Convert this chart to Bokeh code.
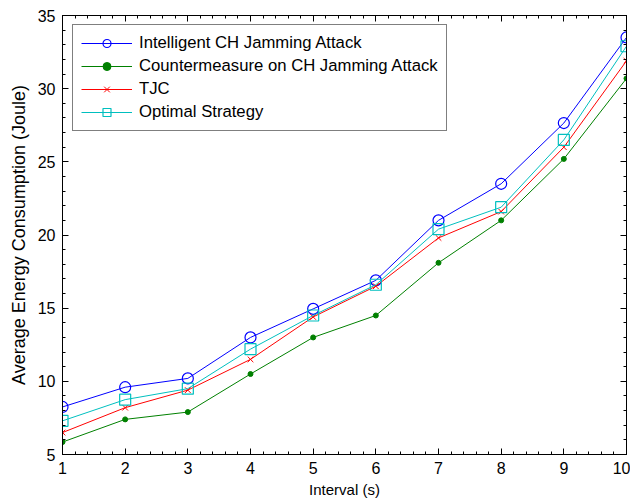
from bokeh.plotting import figure
from bokeh.models import (LinearAxis, FixedTicker, Range1d, Legend, LegendItem,
                          CustomJSTickFormatter)
from bokeh.embed import file_html
from bokeh.resources import INLINE

intervals = [1, 2, 3, 4, 5, 6, 7, 8, 9, 10]
intelligent = [8.25, 9.6, 10.2, 13.0, 14.95, 16.9, 21.0, 23.5, 27.65, 33.5]
counter = [5.85, 7.4, 7.9, 10.5, 13.0, 14.5, 18.1, 21.0, 25.2, 30.7]
tjc = [6.5, 8.2, 9.4, 11.5, 14.4, 16.5, 19.8, 21.6, 26.0, 31.9]
optimal = [7.3, 8.75, 9.5, 12.2, 14.5, 16.6, 20.4, 21.9, 26.5, 32.9]

x_ticks = [1, 2, 3, 4, 5, 6, 7, 8, 9, 10]
y_ticks = [5, 10, 15, 20, 25, 30, 35]
x_minor = [1 + 0.2 * i for i in range(46)]
y_minor = list(range(5, 36))

FONT = "Liberation Sans"

p = figure(width=630, height=500, output_backend="svg", toolbar_location=None,
           x_range=Range1d(1, 10), y_range=Range1d(5, 35),
           min_border_left=62, min_border_right=4, min_border_top=15, min_border_bottom=45,
           background_fill_color="white", border_fill_color="white")
p.xgrid.visible = False
p.ygrid.visible = False
p.outline_line_color = "black"
p.outline_line_width = 1


def style(ax, labels=True):
    ax.major_tick_in = 6
    ax.major_tick_out = 0
    ax.minor_tick_in = 3
    ax.minor_tick_out = 0
    ax.axis_line_color = "black"
    ax.major_tick_line_color = "black"
    ax.minor_tick_line_color = "black"
    ax.major_label_text_font = FONT
    ax.major_label_text_color = "black"
    ax.major_label_text_font_size = "16px"
    ax.axis_label_text_font = FONT
    ax.axis_label_text_font_style = "normal"
    ax.axis_label_text_color = "black"
    if labels:
        ax.major_label_standoff = 7
    else:
        ax.formatter = CustomJSTickFormatter(code="return ''")
        ax.major_label_standoff = 0


p.xaxis.ticker = FixedTicker(ticks=x_ticks, minor_ticks=x_minor)
p.yaxis.ticker = FixedTicker(ticks=y_ticks, minor_ticks=y_minor)
style(p.xaxis[0])
style(p.yaxis[0])
p.xaxis.axis_label = "Interval (s)"
p.yaxis.axis_label = "Average Energy Consumption (Joule)"
p.xaxis.axis_label_text_font_size = "15px"
p.yaxis.axis_label_text_font_size = "18px"
p.xaxis.axis_label_standoff = 4
p.yaxis.axis_label_standoff = 6

top = LinearAxis(ticker=FixedTicker(ticks=x_ticks, minor_ticks=x_minor))
style(top, labels=False)
p.add_layout(top, "above")
right = LinearAxis(ticker=FixedTicker(ticks=y_ticks, minor_ticks=y_minor))
style(right, labels=False)
p.add_layout(right, "right")

l1 = p.line(intervals, intelligent, line_color="#0000FF", line_width=1)
m1 = p.scatter(intervals, intelligent, marker="circle", size=11, line_color="#0000FF",
               fill_color=None, line_width=1.2)
l2 = p.line(intervals, counter, line_color="#008000", line_width=1)
m2 = p.scatter(intervals, counter, marker="circle", size=5, line_color="#008000",
               fill_color="#008000")
l3 = p.line(intervals, tjc, line_color="#FF0000", line_width=1)
m3 = p.scatter(intervals, tjc, marker="x", size=8, line_color="#FF0000", line_width=1)
l4 = p.line(intervals, optimal, line_color="#00BFBF", line_width=1)
m4 = p.scatter(intervals, optimal, marker="square", size=11, line_color="#00BFBF",
               fill_color=None, line_width=1.2)

legend = Legend(items=[
    LegendItem(label="Intelligent CH Jamming Attack", renderers=[l1, m1]),
    LegendItem(label="Countermeasure on CH Jamming Attack", renderers=[l2, m2]),
    LegendItem(label="TJC", renderers=[l3, m3]),
    LegendItem(label="Optimal Strategy", renderers=[l4, m4]),
], location=(10, 323))
legend.margin = 0
legend.padding = 8
legend.spacing = 3
legend.label_height = 20
legend.glyph_height = 20
legend.glyph_width = 51
legend.label_standoff = 7
legend.label_text_font = FONT
legend.label_text_font_size = "16.7px"
legend.label_text_color = "black"
legend.border_line_color = "black"
legend.border_line_width = 1
legend.background_fill_color = "white"
legend.background_fill_alpha = 1
p.add_layout(legend, "center")

open("out.html", "w").write(file_html(p, INLINE))
